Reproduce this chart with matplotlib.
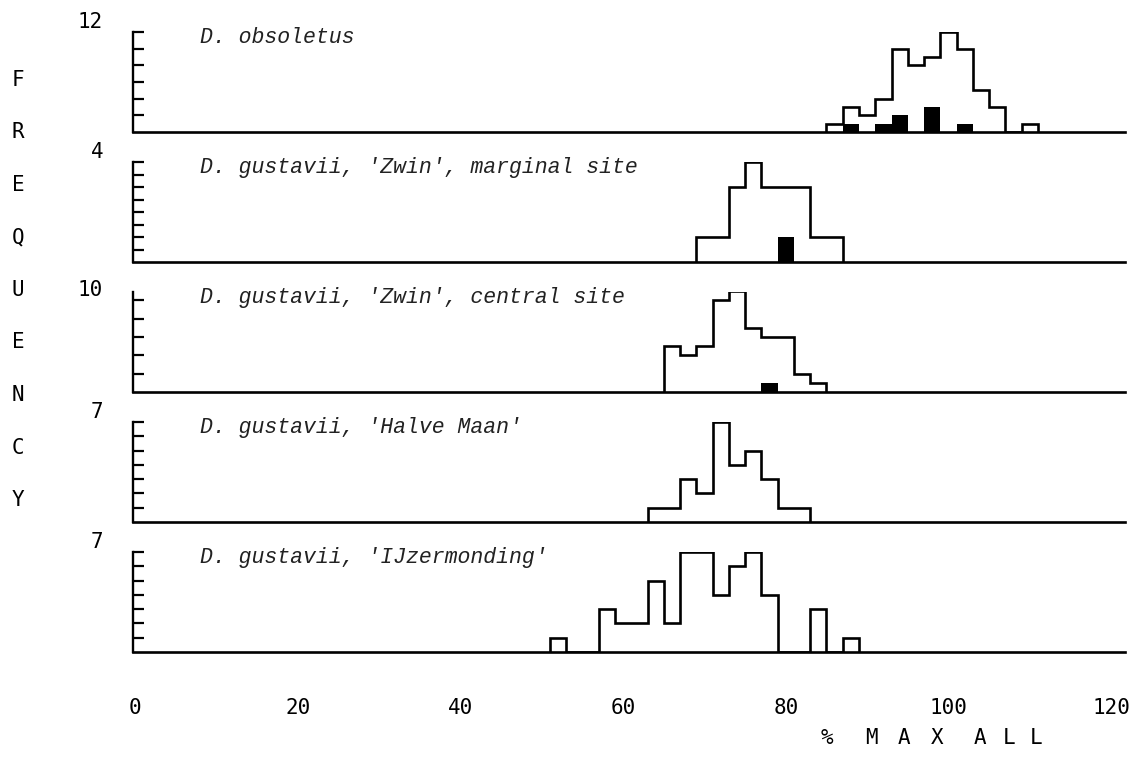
import numpy as np
import matplotlib.pyplot as plt
from matplotlib.transforms import blended_transform_factory

# one histogram per sample, 2 % wide classes, counts listed from the first class centre
titles = [
    "D. obsoletus",
    "D. gustavii, 'Zwin', marginal site",
    "D. gustavii, 'Zwin', central site",
    "D. gustavii, 'Halve Maan'",
    "D. gustavii, 'IJzermonding'",
]
first_centres = [86, 70, 66, 64, 52]
counts = [
    [1, 3, 2, 4, 10, 8, 9, 12, 10, 5, 3, 0, 1],
    [1, 1, 3, 4, 3, 3, 3, 1, 1],
    [5, 4, 5, 10, 11, 7, 6, 6, 2, 1],
    [1, 1, 3, 2, 7, 4, 5, 3, 1, 1],
    [1, 0, 0, 3, 2, 2, 5, 2, 7, 7, 4, 6, 7, 4, 0, 0, 3, 0, 1],
]

# black part of the bars
filled_centres = [[88, 92, 94, 98, 102], [80], [78], [], []]
filled_counts = [[1, 1, 2, 3, 1], [1], [1], [], []]

y_tops = [12, 4, 10.9, 7, 7]
y_ticks = [
    [2, 4, 6, 8, 10, 12],
    [0.5, 1, 1.5, 2, 2.5, 3, 3.5, 4],
    [2, 4, 6, 8, 10],
    [1, 2, 3, 4, 5, 6, 7],
    [1, 2, 3, 4, 5, 6, 7],
]
y_labels = ["12", "4", "10", "7", "7"]

x_ticks = [0, 20, 40, 60, 80, 100, 120]

plot_font = "DejaVu Sans Mono"
title_font = "Liberation Mono"

W, H = 1131, 763
fig = plt.figure(figsize=(W / 100, H / 100), dpi=100)

left_px, right_px = 133, 1125
panel_h = 100
baselines = [132, 262, 392, 522, 652]

for i in range(len(titles)):
    ax = fig.add_axes([left_px / W, 1 - baselines[i] / H,
                       (right_px - left_px) / W, panel_h / H])
    ax.set_xlim(-0.25, 121.7)
    ax.set_ylim(0, y_tops[i])

    edges = first_centres[i] - 1 + 2 * np.arange(len(counts[i]) + 1)
    ax.stairs(counts[i], edges, baseline=0, color="black", lw=1.9)
    if filled_centres[i]:
        ax.bar(filled_centres[i], filled_counts[i], width=2, color="black",
               linewidth=0)

    for side in ["top", "right"]:
        ax.spines[side].set_visible(False)
    ax.spines["left"].set_linewidth(1.7)
    ax.spines["bottom"].set_linewidth(1.9)

    ax.set_yticks(y_ticks[i])
    ax.tick_params(axis="y", direction="in", length=8, width=1.6,
                   labelleft=False)

    trans = blended_transform_factory(ax.transAxes, ax.transData)
    ax.text(-0.030, y_ticks[i][-1], y_labels[i], transform=trans,
            ha="right", va="bottom", fontsize=15, family=plot_font)

    ax.text(0.0675, 0.89, titles[i], transform=ax.transAxes,
            fontsize=15.5, family=title_font, style="italic", va="baseline",
            color="#222222")

    if i == len(titles) - 1:
        ax.set_xticks(x_ticks)
        ax.set_xticklabels([str(t) for t in x_ticks], family=plot_font,
                           fontsize=15)
        ax.tick_params(axis="x", length=0, pad=33)
    else:
        ax.set_xticks([])

# vertical axis title, one letter per line
for k, letter in enumerate("FREQUENCY"):
    fig.text(18 / W, 1 - (80 + 52.5 * k) / H, letter, family=plot_font,
             fontsize=15, ha="center", va="center")

# spaced-out horizontal axis title
x_title_letters = ["%", "M", "A", "X", "A", "L", "L"]
x_title_px = [827, 871, 904, 937, 980, 1009, 1036]
for letter, px in zip(x_title_letters, x_title_px):
    fig.text(px / W, 1 - 738 / H, letter, family=plot_font,
             fontsize=15, ha="center", va="center")

fig.savefig("out.png", dpi=100)
